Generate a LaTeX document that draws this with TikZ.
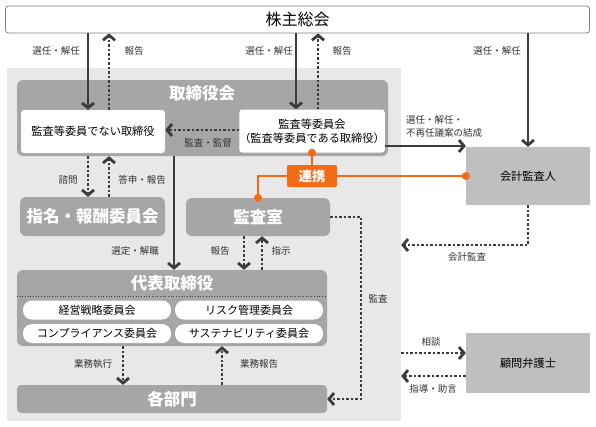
\documentclass[tikz,border=0pt]{standalone}
\usepackage{fontspec}
\setmainfont{Noto Sans CJK JP}
\usepackage{tikz}
\usetikzlibrary{arrows.meta}

\definecolor{bggray}{RGB}{232,232,232}
\definecolor{boxgray}{RGB}{166,166,166}
\definecolor{lightbox}{RGB}{191,191,191}
\definecolor{arrowgray}{RGB}{60,60,60}
\definecolor{textgray}{RGB}{50,50,50}
\definecolor{linkorange}{RGB}{245,106,20}

\begin{document}
\begin{tikzpicture}[x=1pt, y=-1pt,
        lbl/.style={text=textgray, inner sep=0pt, font=\fontsize{9.5}{13}\selectfont},
        graybox/.style={fill=boxgray, rounded corners=6pt, inner sep=0pt},
        whitebox/.style={fill=white, rounded corners=3pt, inner sep=0pt, font=\fontsize{11.2}{14}\selectfont},
        heading/.style={text=white, inner sep=0pt, font=\bfseries\fontsize{16.5}{18}\selectfont},
        pill/.style={fill=white, rounded corners=9pt, inner sep=0pt, minimum width=148pt, minimum height=19pt, font=\fontsize{11}{13}\selectfont},
        outside/.style={fill=lightbox, inner sep=0pt, font=\fontsize{11.2}{14}\selectfont},
        solidarr/.style={draw=arrowgray, line width=2.8pt, -{Straight Barb[length=5pt, width=12pt]}},
        dotarr/.style={solidarr, dash pattern=on 2.5pt off 2pt},
        link/.style={draw=linkorange, line width=2pt},
        linkdot/.style={circle, fill=linkorange, inner sep=0pt, minimum size=8pt}]

    \useasboundingbox (0, 0) rectangle (596, 426);

    \node [draw=gray, fill=white, rounded corners=3pt, line width=0.8pt, minimum width=584pt, minimum height=27pt, inner sep=0pt,
        font=\fontsize{16}{18}\selectfont] (meeting) at (297.5, 19.5) {株主総会};

    \node [fill=bggray, minimum width=394pt, minimum height=353pt, inner sep=0pt] (group) at (204, 244.5) {};

    \node [graybox, minimum width=371pt, minimum height=76pt] (board) at (202.5, 118) {};
    \node [heading] (boardTitle) at (202, 93) {取締役会};
    \node [whitebox, minimum width=144pt, minimum height=43pt] (nonAudit) at (93, 131.5) {監査等委員でない取締役};
    \node [whitebox, minimum width=144pt, minimum height=43pt, align=center] (auditCom) at (312, 131) {監査等委員会\\（監査等委員である取締役）};

    \node [graybox, minimum width=145pt, minimum height=39pt] (nomination) at (92.5, 216.5) {};
    \node [heading] (nominationTitle) at (92.5, 216.5) {指名・報酬委員会};
    \node [graybox, minimum width=144pt, minimum height=38pt] (auditRoom) at (258, 217) {};
    \node [heading] (auditRoomTitle) at (258, 217) {監査室};

    \node [graybox, minimum width=310pt, minimum height=76pt] (ceo) at (172, 308) {};
    \node [heading] (ceoTitle) at (172, 283) {代表取締役};
    \node [pill] (strategy) at (97, 310) {経営戦略委員会};
    \node [pill] (risk) at (249, 310) {リスク管理委員会};
    \node [pill] (compliance) at (97, 333.5) {コンプライアンス委員会};
    \node [pill] (sustain) at (249, 333.5) {サステナビリティ委員会};

    \node [graybox, rounded corners=4pt, minimum width=310pt, minimum height=28pt] (depts) at (172, 399) {};
    \node [heading] (deptsTitle) at (172, 399) {各部門};

    \node [outside, minimum width=124pt, minimum height=58pt] (auditor) at (528, 176) {会計監査人};
    \node [outside, minimum width=124pt, minimum height=60pt] (lawyer) at (528, 363) {顧問弁護士};

    \node [fill=linkorange, rounded corners=2pt, minimum width=50pt, minimum height=22pt, inner sep=0pt, text=white,
        font=\bfseries\fontsize{13.5}{15}\selectfont] (renkei) at (312, 176) {連携};

    \coordinate (xA) at (88, 0);
    \coordinate (xB) at (109, 0);
    \coordinate (xC) at (296, 0);
    \coordinate (xD) at (318, 0);
    \coordinate (xE) at (528, 0);
    \coordinate (xF) at (174, 0);
    \coordinate (xG) at (244, 0);
    \coordinate (xH) at (262, 0);
    \coordinate (xI) at (123, 0);
    \coordinate (xJ) at (222, 0);
    \coordinate (xK) at (361, 0);
    \coordinate (yA) at (0, 146);
    \coordinate (yB) at (0, 130);
    \coordinate (yC) at (0, 245);
    \coordinate (yD) at (0, 353);
    \coordinate (yE) at (0, 376);
    \coordinate (yF) at (0, 296);

    \draw [solidarr] (meeting.south -| xA) -- (nonAudit.north -| xA);
    \draw [dotarr] (nonAudit.north -| xB) -- (meeting.south -| xB);
    \draw [solidarr] (meeting.south -| xC) -- (auditCom.north -| xC);
    \draw [dotarr] (auditCom.north -| xD) -- (meeting.south -| xD);
    \draw [solidarr] (meeting.south -| xE) -- (auditor.north);

    \draw [dotarr] (auditCom.west |- yB) -- (nonAudit.east |- yB);
    \draw [solidarr] (auditCom.east |- yA) -- (auditor.west |- yA);

    \draw [dotarr] (board.south -| xA) -- (nomination.north -| xA);
    \draw [dotarr] (nomination.north -| xB) -- (board.south -| xB);
    \draw [solidarr] (board.south -| xF) -- (ceo.north -| xF);
    \draw [dotarr] (auditRoom.south -| xG) -- (ceo.north -| xG);
    \draw [dotarr] (ceo.north -| xH) -- (auditRoom.south -| xH);
    \draw [dotarr] (ceo.south -| xI) -- (depts.north -| xI);
    \draw [dotarr] (depts.north -| xJ) -- (ceo.south -| xJ);

    \draw [dotarr] (auditRoom.east) -| (xK |- depts.east) -- (depts.east);
    \draw [dotarr] (auditor.south) |- (group.east |- yC);
    \draw [dotarr] (group.east |- yD) -- (lawyer.west |- yD);
    \draw [dotarr] (lawyer.west |- yE) -- (group.east |- yE);

    \draw [arrowgray, line width=0.7pt, dotted] (ceo.west |- yF) -- (ceo.east |- yF);

    \draw [link] (auditCom.south) -- (renkei.north);
    \draw [link] (renkei.east) -- (auditor.west);
    \draw [link] (renkei.west) -| (auditRoom.north);
    \node [linkdot] (dotA) at (auditCom.south) {};
    \node [linkdot] (dotB) at (auditor.west) {};
    \node [linkdot] (dotC) at (auditRoom.north) {};

    \node [lbl] (l1) at (56, 51) {選任・解任};
    \node [lbl] (l2) at (134, 51) {報告};
    \node [lbl] (l3) at (269, 51) {選任・解任};
    \node [lbl] (l4) at (342, 51) {報告};
    \node [lbl] (l5) at (497, 51) {選任・解任};
    \node [lbl, align=left, anchor=west] (l6) at (406, 126.5) {選任・解任・\\不再任議案の結成};
    \node [lbl] (l7) at (208, 143) {監査・監督};
    \node [lbl] (l8) at (68, 180) {諮問};
    \node [lbl] (l9) at (142, 180) {答申・報告};
    \node [lbl] (l10) at (135, 251) {選定・解職};
    \node [lbl] (l11) at (220, 251) {報告};
    \node [lbl] (l12) at (281, 251) {指示};
    \node [lbl] (l13) at (467, 257) {会計監査};
    \node [lbl] (l14) at (378, 299) {監査};
    \node [lbl] (l15) at (93, 364) {業務執行};
    \node [lbl] (l16) at (259, 364) {業務報告};
    \node [lbl] (l17) at (431, 342) {相談};
    \node [lbl] (l18) at (433, 389) {指導・助言};
\end{tikzpicture}
\end{document}
